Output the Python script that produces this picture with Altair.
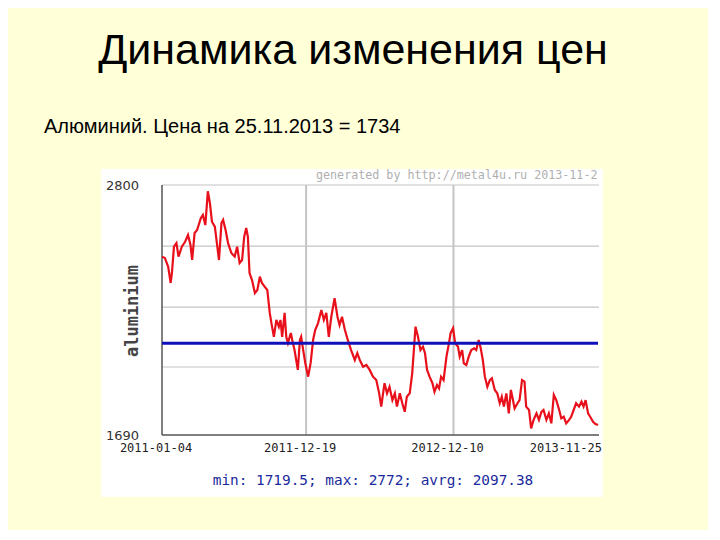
import altair as alt
import pandas as pd

# ---- data ----
start_date = "2011-01-04"
day_offsets = [0, 7, 15, 21, 24, 29, 35, 40, 48, 56,
               63, 69, 73, 79, 85, 94, 99, 105, 111, 116,
               121, 128, 134, 138, 144, 148, 154, 160, 168, 176,
               182, 188, 194, 199, 204, 208, 212, 218, 225, 231,
               237, 242, 249, 255, 261, 265, 271, 277, 283, 287,
               291, 297, 301, 305, 312, 317, 321, 325, 329, 334,
               337, 342, 347, 354, 360, 366, 371, 378, 386, 392,
               398, 404, 410, 418, 425, 430, 436, 443, 450, 458,
               467, 473, 479, 487, 495, 503, 511, 519, 526, 531,
               539, 545, 551, 558, 564, 569, 576, 582, 588, 593,
               600, 606, 610, 614, 620, 626, 632, 637, 642, 648,
               655, 660, 666, 671, 676, 682, 689, 695, 699, 705,
               710, 717, 721, 727, 731, 737, 743, 749, 756, 761,
               767, 772, 777, 782, 788, 794, 799, 806, 812, 818,
               823, 828, 834, 840, 845, 850, 854, 861, 866, 872,
               878, 882, 889, 894, 900, 907, 913, 919, 924, 931,
               937, 943, 949, 955, 962, 967, 973, 979, 986, 991,
               997, 1003, 1010, 1016, 1021, 1026, 1032, 1037, 1044, 1050,
               1056]
prices = [2482, 2476, 2437, 2365, 2409, 2526, 2542, 2482, 2526, 2548,
          2578, 2534, 2467, 2587, 2600, 2653, 2667, 2622, 2772, 2720,
          2637, 2615, 2526, 2467, 2631, 2645, 2600, 2542, 2498, 2482,
          2526, 2454, 2467, 2570, 2609, 2570, 2409, 2378, 2320, 2334,
          2393, 2365, 2348, 2334, 2232, 2187, 2126, 2201, 2171, 2201,
          2126, 2232, 2126, 2098, 2143, 2098, 2067, 2023, 1979, 2112,
          2126, 2067, 2010, 1949, 2010, 2112, 2156, 2187, 2245, 2201,
          2232, 2126, 2215, 2297, 2215, 2178, 2215, 2156, 2112, 2067,
          2023, 2053, 2023, 1993, 2001, 1979, 1949, 1934, 1875, 1816,
          1920, 1875, 1904, 1845, 1875, 1816, 1875, 1831, 1793, 1860,
          1875, 1964, 2067, 2171, 2126, 2067, 2082, 2053, 1979, 1949,
          1920, 1882, 1912, 1897, 1949, 1934, 2038, 2097, 2142, 2164,
          2097, 2082, 2038, 2067, 2008, 2001, 2038, 2067, 2075, 2067,
          2112, 2075, 2023, 1949, 1904, 1934, 1942, 1890, 1875, 1831,
          1860, 1816, 1875, 1786, 1890, 1845, 1808, 1831, 1845, 1934,
          1927, 1816, 1801, 1719.5, 1757, 1786, 1757, 1793, 1801, 1757,
          1786, 1742, 1868, 1845, 1801, 1764, 1771, 1742, 1757, 1771,
          1801, 1831, 1816, 1838, 1816, 1845, 1786, 1771, 1749, 1739,
          1734]

avg_price = 2097.38
y_min, y_max = 1690, 2800
y_tick_values = [2800, 1690]
grid_values = [2800, 2529, 2258, 1992]
grid_dates = ["2011-12-19", "2012-12-10"]
x_tick_dates = ["2011-01-04", "2011-12-19", "2012-12-10"]
x_last_date = ["2013-11-25"]

title_text = "Динамика изменения цен"
subtitle_text = "Алюминий. Цена на 25.11.2013 = 1734"
generated_text = "generated by http://metal4u.ru 2013-11-25"
stats_text = "min: 1719.5; max: 2772; avrg: 2097.38"
axis_title = "aluminium"

# ---- tables ----
dates = (pd.Timestamp(start_date) + pd.to_timedelta(day_offsets, unit="D")).strftime("%Y-%m-%d")
df = pd.DataFrame({"date": dates, "price": prices})
grid_df = pd.DataFrame({"v": grid_values})
vgrid_df = pd.DataFrame({"date": grid_dates})
ytick_df = pd.DataFrame({"v": y_tick_values, "label": [str(v) for v in y_tick_values]})
xtick_df = pd.DataFrame({"date": x_tick_dates, "label": x_tick_dates})
xlast_df = pd.DataFrame({"date": x_last_date, "label": x_last_date})
avg_df = pd.DataFrame({"v": [avg_price]})
one = alt.Data(values=[{}])

W, H = 436, 250
BG = "#FFFFD8"

x_scale = alt.Scale(type="utc",
                    domain=[alt.DateTime(year=2011, month=1, date=4, utc=True),
                            alt.DateTime(year=2013, month=11, date=25, utc=True)])
y_scale = alt.Scale(domain=[y_min, y_max], zero=False, nice=False)
X = lambda f="date": alt.X(f"{f}:T", scale=x_scale, axis=None)
Y = lambda f: alt.Y(f"{f}:Q", scale=y_scale, axis=None)

panel = alt.Chart(one).mark_rect(color="white").encode(
    x=alt.value(-61), x2=alt.value(441), y=alt.value(-16), y2=alt.value(312))

hgrid = alt.Chart(grid_df).mark_rule(color="#c4c4c4", strokeWidth=1.2).encode(
    y=Y("v"), x=alt.value(0), x2=alt.value(437))

vgrid = alt.Chart(vgrid_df).mark_rule(color="#c4c4c4", strokeWidth=2).encode(
    x=X(), y=alt.value(0), y2=alt.value(H))

left_axis = alt.Chart(one).mark_rule(color="#555555", strokeWidth=1.5).encode(
    x=alt.value(0), y=alt.value(0), y2=alt.value(H))
bottom_axis = alt.Chart(one).mark_rule(color="#555555", strokeWidth=1.5).encode(
    x=alt.value(0), x2=alt.value(437), y=alt.value(H))

line = alt.Chart(df).mark_line(color="#e8101a", strokeWidth=2.2).encode(
    x=X(), y=Y("price"))

avg_line = alt.Chart(avg_df).mark_rule(color="#1010bb", strokeWidth=3).encode(
    y=Y("v"), x=alt.value(0), x2=alt.value(W))

ytick_text = alt.Chart(ytick_df).mark_text(
    align="right", baseline="middle", font="DejaVu Sans", fontSize=13, color="#333333", dy=1
).encode(y=Y("v"), x=alt.value(-23), text="label:N")

xtick_text = alt.Chart(xtick_df).mark_text(
    align="center", baseline="middle", font="DejaVu Sans Mono", fontSize=12, color="#222222", dx=-6
).encode(x=X(), y=alt.value(263), text="label:N")

xlast_text = alt.Chart(xlast_df).mark_text(
    align="right", baseline="middle", font="DejaVu Sans Mono", fontSize=12, color="#222222", dx=4
).encode(x=X(), y=alt.value(263), text="label:N")

ytitle = alt.Chart(one).mark_text(
    text=axis_title, angle=270, align="center", baseline="middle",
    font="DejaVu Sans Mono", fontSize=17, fontWeight="bold", color="#444444"
).encode(x=alt.value(-29), y=alt.value(126))

gen = alt.Chart(one).mark_text(
    text=generated_text, align="left", baseline="middle", font="DejaVu Sans Mono",
    fontSize=11.7, color="#b0b0b0", limit=287, ellipsis="\u200b"
).encode(x=alt.value(154), y=alt.value(-10))

stats = alt.Chart(one).mark_text(
    text=stats_text, align="center", baseline="middle", font="DejaVu Sans Mono",
    fontSize=14.4, color="#1a2a9c"
).encode(x=alt.value(211), y=alt.value(296))

title = alt.Chart(one).mark_text(
    text=title_text, align="center", baseline="alphabetic", font="Liberation Sans",
    fontSize=43, color="#000000"
).encode(x=alt.value(191), y=alt.value(-121))

subtitle = alt.Chart(one).mark_text(
    text=subtitle_text, align="left", baseline="alphabetic", font="Liberation Sans",
    fontSize=20, color="#000000"
).encode(x=alt.value(-118), y=alt.value(-52))

chart = alt.layer(
    panel, hgrid, vgrid, left_axis, bottom_axis, line, avg_line,
    ytick_text, xtick_text, xlast_text, ytitle, gen, stats, title, subtitle
).properties(
    width=W, height=H,
    autosize=alt.AutoSizeParams(type="none"),
    padding={"left": 154, "top": 177, "right": 110, "bottom": 95},
    background=BG,
).configure_view(stroke=None)

chart.save("out.html", embed_options={"renderer": "svg", "actions": False})
